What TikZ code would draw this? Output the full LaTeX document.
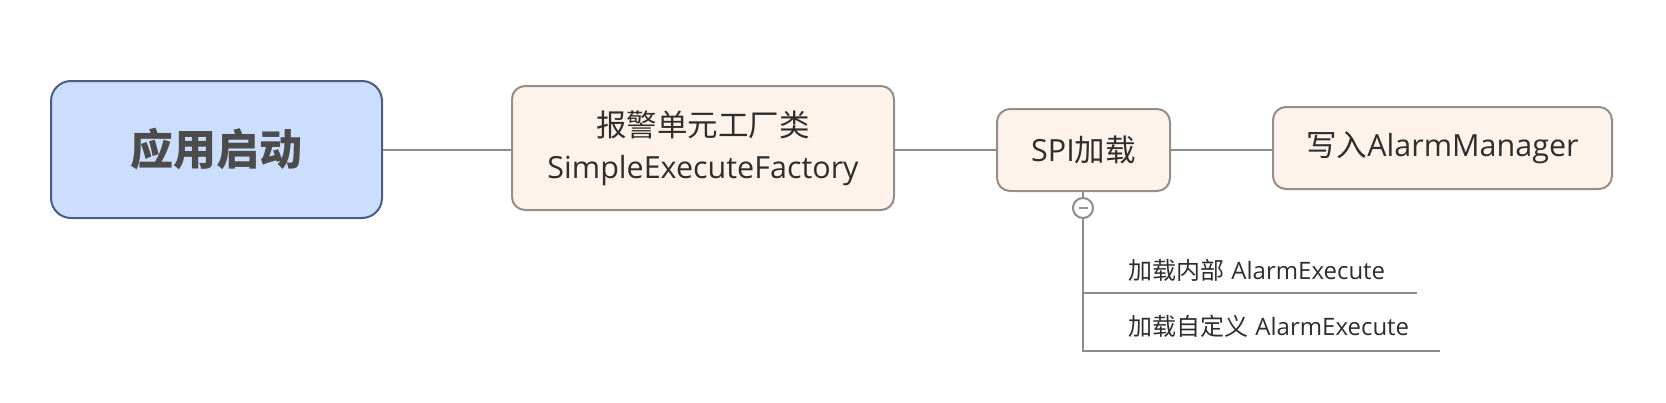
\documentclass[tikz,border=0pt]{standalone}
\usepackage{fontspec}
\newfontfamily\cjk{Noto Sans CJK SC}
\newfontfamily\lat{Open Sans}
\definecolor{bluefill}{HTML}{CCDEFE}
\definecolor{blueline}{HTML}{4B5D86}
\definecolor{beigefill}{HTML}{FDF3EB}
\definecolor{beigeline}{HTML}{958E88}
\definecolor{conn}{HTML}{8C8C8C}
\definecolor{txt}{HTML}{2E2E2E}
\definecolor{minusc}{HTML}{8190BC}
\begin{document}
\begin{tikzpicture}[x=1pt,y=-1pt,
  rootbox/.style={draw=blueline,fill=bluefill,line width=2pt,rounded corners=20pt,inner sep=0pt,text=black!70},
  topicbox/.style={draw=beigeline,fill=beigefill,line width=2pt,rounded corners=13pt,inner sep=0pt,text=txt,align=center},
  subtext/.style={anchor=west,inner sep=0pt,text=txt},
  conn/.style={draw=conn,line width=2.8pt},
  big/.style={font=\fontsize{30.5}{40}\selectfont}]
\useasboundingbox (0,0) rectangle (1666,402);
\node[rootbox,minimum width=331pt,minimum height=137pt] (root) at (216.5,149.5)
  {\fontsize{43}{50}\selectfont\cjk\bfseries 应用启动};
\node[topicbox,big,minimum width=382pt,minimum height=124pt] (fac) at (703,148)
  {{\cjk 报警单元工厂类}\\[2pt]{\lat SimpleExecuteFactory}};
\node[topicbox,big,minimum width=173pt,minimum height=82pt] (spi) at (1083.5,150)
  {{\lat SPI}{\cjk 加载}};
\node[topicbox,big,minimum width=339pt,minimum height=82pt] (wr) at (1442.5,148)
  {{\cjk 写入}{\lat AlarmManager}};
\node[circle,draw=conn,fill=white,line width=2pt,minimum size=20pt,inner sep=0pt] (col) at (1083,208) {};
\draw[minusc,line width=2.5pt] ([xshift=-4.5pt]col.center) -- ([xshift=4.5pt]col.center);
\coordinate (c1) at (1083,293);
\coordinate (c2) at (1083,351);
\coordinate (e1) at (1417,293);
\coordinate (e2) at (1440,351);
\node[subtext,font=\fontsize{24}{28}\selectfont] (s1) at (1128,270) {{\cjk 加载内部} {\lat AlarmExecute}};
\node[subtext,font=\fontsize{24}{28}\selectfont] (s2) at (1128,326) {{\cjk 加载自定义} {\lat AlarmExecute}};
\draw[conn] (root.east |- 0,150) -- (fac.west |- 0,150);
\draw[conn] (fac.east |- 0,150) -- (spi.west |- 0,150);
\draw[conn] (spi.east |- 0,150) -- (wr.west |- 0,150);
\draw[conn] (spi.south -| col) -- (col.north);
\draw[conn] (col.south) -- (c2) -- (e2);
\draw[conn] (c1) -- (e1);
\end{tikzpicture}
\end{document}
